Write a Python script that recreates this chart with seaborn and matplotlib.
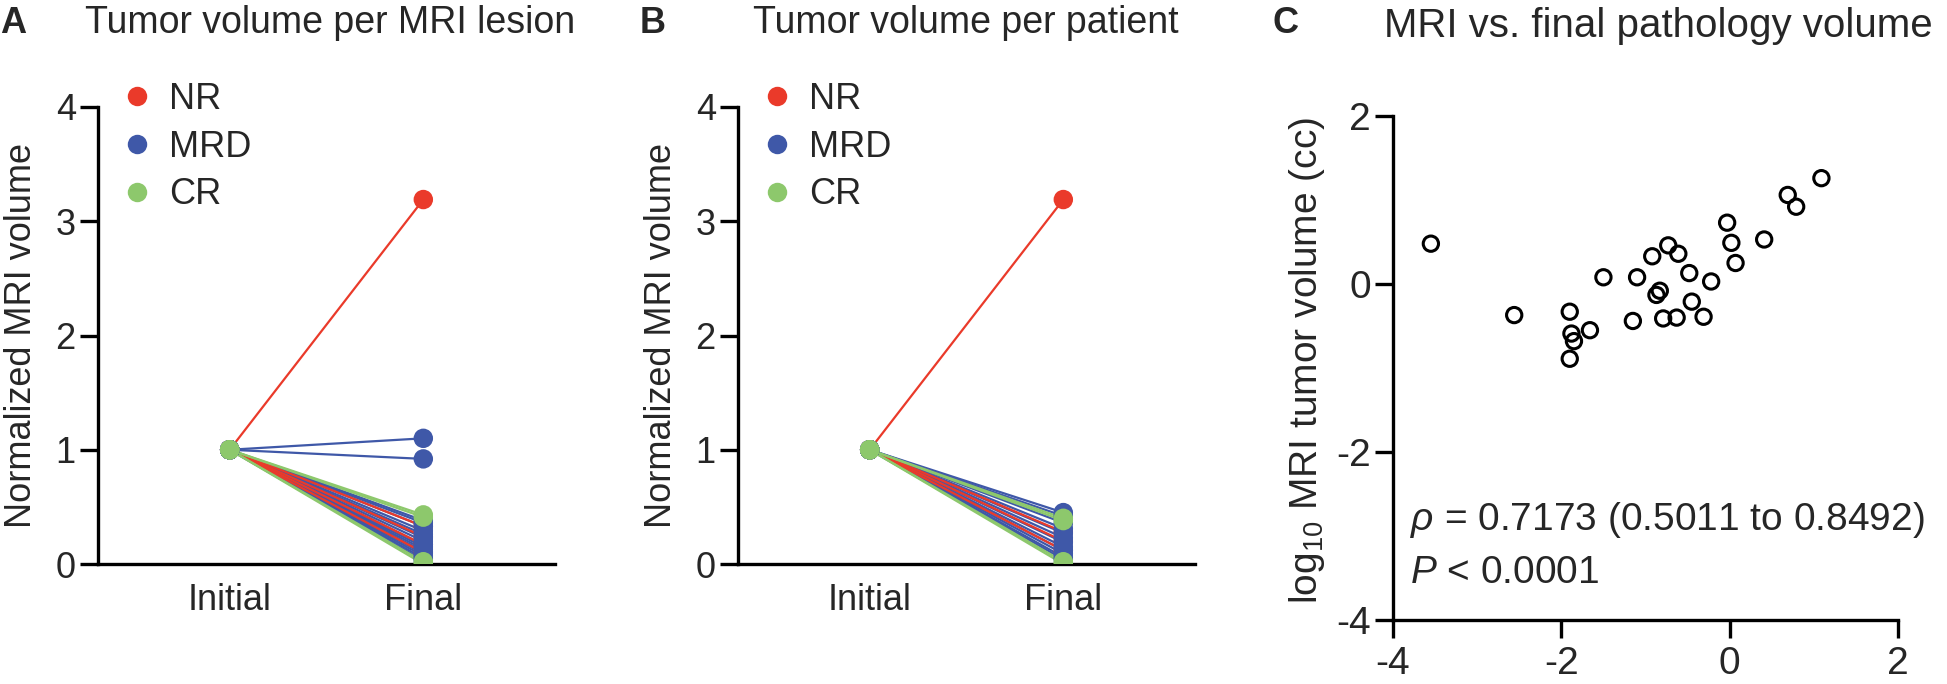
import pandas as pd
import matplotlib.pyplot as plt
import seaborn as sns
from matplotlib.lines import Line2D

# ---- data ----
groups = ['NR', 'MRD', 'CR']
timepoints = ['Initial', 'Final']

# panel A: final normalized volume per MRI lesion (initial = 1)
lesion_nr = [3.19, 0.33, 0.24, 0.17, 0.10]
lesion_mrd = [1.10, 0.92, 0.38, 0.36, 0.33, 0.29, 0.26, 0.23, 0.20, 0.17, 0.15, 0.13, 0.11, 0.09, 0.07, 0.05, 0.03]
lesion_cr = [0.43, 0.41, 0.02, 0.0]

# panel B: final normalized volume per patient (initial = 1)
patient_nr = [3.19, 0.28, 0.20, 0.12]
patient_mrd = [0.45, 0.42, 0.36, 0.31, 0.27, 0.23, 0.19, 0.15, 0.12, 0.09, 0.06, 0.04]
patient_cr = [0.40, 0.38, 0.02, 0.0]

# panel C: log10 final pathology volume vs log10 MRI volume
path_log = [-3.55, -2.56, -1.90, -1.88, -1.85, -1.90, -1.66, -1.50, -1.15, -1.10,
            -0.92, -0.87, -0.83, -0.79, -0.73, -0.63, -0.61, -0.48, -0.45, -0.31,
            -0.22, -0.03, 0.02, 0.07, 0.41, 0.69, 0.79, 1.09]
mri_log = [0.48, -0.37, -0.33, -0.59, -0.68, -0.89, -0.55, 0.08, -0.44, 0.08,
           0.33, -0.13, -0.08, -0.41, 0.46, -0.40, 0.36, 0.13, -0.21, -0.39,
           0.03, 0.73, 0.49, 0.25, 0.53, 1.06, 0.92, 1.26]

palette = {'NR': '#EA3A2A', 'MRD': '#3F58A8', 'CR': '#8DC86C'}

sns.set_style('ticks')
plt.rcParams['font.family'] = ['Liberation Sans', 'DejaVu Sans']
plt.rcParams['mathtext.fontset'] = 'custom'
plt.rcParams['mathtext.rm'] = 'Liberation Sans'
plt.rcParams['mathtext.it'] = 'Liberation Sans:italic'
plt.rcParams['axes.unicode_minus'] = False

FS = 26      # panels A, B
FSC = 28     # panel C
W, H = 1947, 684


def long_table(nr, mrd, cr):
    rows = []
    uid = 0
    for g, vals in zip(groups, [nr, mrd, cr]):
        for v in vals:
            rows.append({'unit': uid, 'group': g, 'time': timepoints[0], 'vol': 1.0})
            rows.append({'unit': uid, 'group': g, 'time': timepoints[1], 'vol': v})
            uid += 1
    return pd.DataFrame(rows)


def style_axes(ax, fs, lw=2.4):
    for s in ['top', 'right']:
        ax.spines[s].set_visible(False)
    for s in ['left', 'bottom']:
        ax.spines[s].set_linewidth(lw)
        ax.spines[s].set_color('black')
    ax.tick_params(width=lw, length=13, labelsize=fs, color='black', pad=3)


fig = plt.figure(figsize=(W / 100, H / 100), dpi=100)

def add_axes(l, t, r, b):
    return fig.add_axes([l / W, 1 - b / H, (r - l) / W, (b - t) / H])

axA = add_axes(98, 107, 555, 564)
axB = add_axes(738, 107, 1195, 564)
axC = add_axes(1393, 116, 1898, 620)

for ax, df, title, tx, letter, lx in [
        (axA, long_table(lesion_nr, lesion_mrd, lesion_cr), 'Tumor volume per MRI lesion', 330, 'A', 0),
        (axB, long_table(patient_nr, patient_mrd, patient_cr), 'Tumor volume per patient', 966, 'B', 640)]:
    # connecting lines: blue underneath, red over it, green last
    sns.lineplot(data=df, x='time', y='vol', hue='group', hue_order=['MRD', 'NR', 'CR'],
                 units='unit', estimator=None, sort=False, palette=palette,
                 linewidth=1.6, legend=False, ax=ax)
    # points: red first, then blue, then green on top
    sns.scatterplot(data=df, x='time', y='vol', hue='group', hue_order=groups,
                    palette=palette, s=196, linewidth=0, legend=False, ax=ax, zorder=3)
    ax.set_ylim(0, 4)
    ax.set_yticks([0, 1, 2, 3, 4])
    ax.set_xlim(-0.68, 1.68)
    style_axes(ax, FS)
    ax.tick_params(axis='x', length=0, pad=14)
    ax.set_xlabel('')
    ax.set_ylabel('Normalized MRI volume', fontsize=FS)
    ax.yaxis.set_label_coords(-0.13, 0.5)
    handles = [Line2D([], [], marker='o', linestyle='none', markersize=14,
                      markeredgewidth=0, color=palette[g]) for g in groups]
    ax.legend(handles, groups, loc='upper left', bbox_to_anchor=(0.045, 1.055),
              frameon=False, fontsize=FS, handlelength=1.0, handletextpad=0.4,
              labelspacing=0.35, borderpad=0, borderaxespad=0)
    fig.text(tx / W, 1 - 33 / H, title, fontsize=FS + 1, ha='center', va='baseline')
    fig.text(lx / W, 1 - 33 / H, letter, fontsize=FS, fontweight='bold', ha='left', va='baseline')

# panel C
sns.scatterplot(x=path_log, y=mri_log, ax=axC, s=121, facecolor='none',
                edgecolor='black', linewidth=2.2)
axC.set_xlim(-4, 2)
axC.set_ylim(-4, 2)
axC.set_xticks([-4, -2, 0, 2])
axC.set_yticks([-4, -2, 0, 2])
style_axes(axC, FSC)
axC.tick_params(axis='x', pad=6)
axC.set_ylabel(r'log$_{10}$ MRI tumor volume (cc)', fontsize=FSC)
axC.yaxis.set_label_coords(-0.13, 0.515)
axC.text(-3.8, -2.93, r'$\it{\rho}$ = 0.7173 (0.5011 to 0.8492)', fontsize=FSC, va='baseline')
axC.text(-3.8, -3.56, r'$\it{P}$ < 0.0001', fontsize=FSC, va='baseline')
fig.text(1658 / W, 1 - 37 / H, 'MRI vs. final pathology volume', fontsize=FSC + 1, ha='center', va='baseline')
fig.text(1273 / W, 1 - 33 / H, 'C', fontsize=FS, fontweight='bold', ha='left', va='baseline')

plt.savefig('out.png', dpi=100)
